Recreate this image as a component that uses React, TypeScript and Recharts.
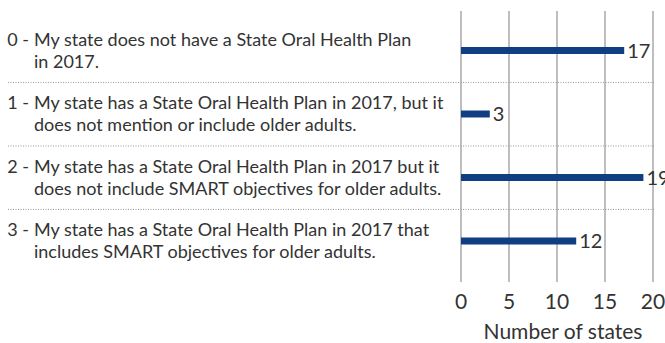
import React from 'react';
import { Bar, BarChart, CartesianGrid, LabelList, XAxis, YAxis } from 'recharts';

const categories = ['0', '1', '2', '3'];
const firstLines = [
	'My state does not have a State Oral Health Plan',
	'My state has a State Oral Health Plan in 2017, but it',
	'My state has a State Oral Health Plan in 2017 but it',
	'My state has a State Oral Health Plan in 2017 that',
];
const secondLines = [
	'in 2017.',
	'does not mention or include older adults.',
	'does not include SMART objectives for older adults.',
	'includes SMART objectives for older adults.',
];
const stateCounts = [17, 3, 19, 12];
const xTicks = [0, 5, 10, 15, 20];

const data = categories.map((code, i) => ({
	code,
	first: firstLines[i],
	second: secondLines[i],
	states: stateCounts[i],
}));

const FONT = 'Lato, "Open Sans", sans-serif';
const TEXT = '#333333';
const BAND = 63.4;

const CategoryTick = (props: any) => {
	const { y, payload, index } = props;
	const row = data[index] ?? data.find((d) => d.code === payload.value);
	return (
		<g>
			<text x={29} y={y - 5} textAnchor='end' fontSize={18} fill={TEXT} fontFamily={FONT}>
				{row.code} -
			</text>
			<text x={34} y={y - 5} fontSize={18} fill={TEXT} fontFamily={FONT}>
				{row.first}
			</text>
			<text x={34} y={y + 17} fontSize={18} fill={TEXT} fontFamily={FONT}>
				{row.second}
			</text>
			{index < categories.length - 1 && (
				<line x1={8} x2={655} y1={y + BAND / 2} y2={y + BAND / 2} stroke='#9a9a9a' strokeDasharray='1 1.5' />
			)}
		</g>
	);
};

const App = () => {
	return (
		<div style={{ position: 'absolute', left: 0, top: 0 }}>
			<BarChart
				width={665}
				height={343}
				data={data}
				layout='vertical'
				margin={{ top: 11, right: 12, bottom: 0, left: 0 }}
			>
				<CartesianGrid horizontal={false} stroke='#a8a8a8' strokeWidth={1.5} />
				<XAxis
					type='number'
					domain={[0, 20]}
					ticks={xTicks}
					tickLine={false}
					axisLine={false}
					height={61}
					tick={{ fontSize: 21, fill: TEXT, fontFamily: FONT }}
					tickMargin={6}
					label={{
						value: 'Number of states',
						position: 'insideBottom',
						offset: 4,
						dx: 6,
						fontSize: 21,
						fill: TEXT,
						fontFamily: FONT,
					}}
				/>
				<YAxis
					type='category'
					dataKey='code'
					width={461}
					tickLine={false}
					axisLine={false}
					padding={{ top: 8, bottom: 9 }}
					tick={<CategoryTick />}
					interval={0}
				/>
				<Bar dataKey='states' fill='#0f3f82' barSize={7} isAnimationActive={false}>
					<LabelList
						dataKey='states'
						position='right'
						offset={3}
						fontSize={20}
						fill={TEXT}
						fontFamily={FONT}
					/>
				</Bar>
			</BarChart>
		</div>
	);
};

export default App;
